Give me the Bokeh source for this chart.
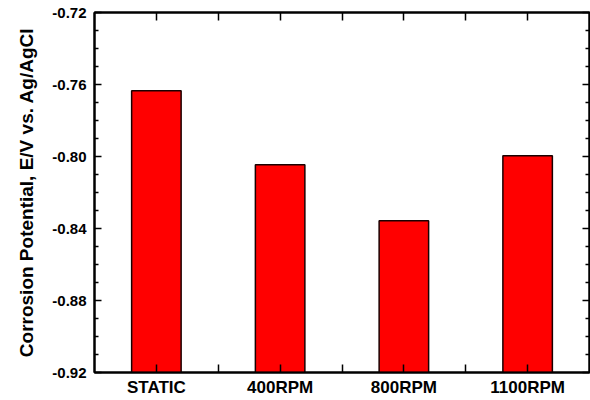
from bokeh.plotting import figure
from bokeh.models import LinearAxis, FixedTicker, Range1d, ColumnDataSource, CustomLabelingPolicy
from bokeh.embed import file_html
from bokeh.resources import INLINE

categories = ["STATIC", "400RPM", "800RPM", "1100RPM"]
potentials = [-0.7635, -0.8046, -0.8357, -0.7996]
y_ticks = [-0.92, -0.88, -0.84, -0.80, -0.76, -0.72]
y_tick_labels = ["-0.92", "-0.88", "-0.84", "-0.80", "-0.76", "-0.72"]
y_minor = [-0.91, -0.90, -0.89, -0.87, -0.86, -0.85, -0.83, -0.82, -0.81,
           -0.79, -0.78, -0.77, -0.75, -0.74, -0.73]
y_label = "Corrosion Potential, E/V vs. Ag/AgCl"
y_bottom = -0.92
y_top = -0.72

xpos = list(range(len(categories)))
x_minor = [0.5, 1.5, 2.5]

src = ColumnDataSource(dict(x=xpos, top=potentials, bottom=[y_bottom] * len(xpos)))

FONT = "Liberation Sans"

p = figure(width=590, height=400, x_range=Range1d(-0.5, len(categories) - 0.5),
           y_range=Range1d(y_bottom, y_top), output_backend="svg",
           toolbar_location=None, min_border_left=94, min_border_right=1,
           min_border_top=12, min_border_bottom=28)
p.xgrid.visible = False
p.ygrid.visible = False
p.outline_line_color = "black"
p.outline_line_width = 2
p.background_fill_color = "white"
p.border_fill_color = "white"

p.vbar(x="x", top="top", bottom="bottom", width=0.4, source=src,
       fill_color="#ff0000", line_color="#1a0000", line_width=1.5)

xt = FixedTicker(ticks=xpos, minor_ticks=x_minor)
yt = FixedTicker(ticks=y_ticks, minor_ticks=y_minor)

NO_LABELS = """
const all = Array.from(indices);
for (const i of all) indices.unset(i);
return indices;
"""

def style_x(ax, labels=True):
    ax.ticker = xt
    ax.axis_line_width = 2
    ax.major_tick_in = 8
    ax.major_tick_out = 0
    ax.minor_tick_in = 8
    ax.minor_tick_out = 0
    ax.major_tick_line_width = 1.5
    ax.minor_tick_line_width = 1.5
    if labels:
        ax.major_label_overrides = {i: c for i, c in zip(xpos, categories)}
        ax.major_label_text_font = FONT
        ax.major_label_text_font_style = "bold"
        ax.major_label_text_font_size = "17px"
        ax.major_label_text_color = "black"
        ax.major_label_standoff = 5
    else:
        ax.major_label_text_font_size = "0px"
        ax.major_label_standoff = 0
        ax.major_label_policy = CustomLabelingPolicy(code=NO_LABELS)

def style_y(ax, labels=True):
    ax.ticker = yt
    ax.axis_line_width = 2
    ax.major_tick_in = 7
    ax.major_tick_out = 0
    ax.minor_tick_in = 4
    ax.minor_tick_out = 0
    ax.major_tick_line_width = 1.5
    ax.minor_tick_line_width = 1.5
    if labels:
        ax.major_label_overrides = {t: l for t, l in zip(y_ticks, y_tick_labels)}
        ax.major_label_text_font = FONT
        ax.major_label_text_font_style = "bold"
        ax.major_label_text_font_size = "15px"
        ax.major_label_text_color = "black"
        ax.major_label_standoff = 8
    else:
        ax.major_label_text_font_size = "0px"
        ax.major_label_standoff = 0
        ax.major_label_policy = CustomLabelingPolicy(code=NO_LABELS)

style_x(p.xaxis[0])
style_y(p.yaxis[0])
p.yaxis[0].axis_label = y_label
p.yaxis[0].axis_label_text_font = FONT
p.yaxis[0].axis_label_text_font_style = "bold"
p.yaxis[0].axis_label_text_font_size = "19px"
p.yaxis[0].axis_label_text_color = "black"
p.yaxis[0].axis_label_standoff = 12

top_ax = LinearAxis()
style_x(top_ax, labels=False)
p.add_layout(top_ax, "above")
right_ax = LinearAxis()
style_y(right_ax, labels=False)
p.add_layout(right_ax, "right")

open("out.html", "w").write(file_html(p, INLINE))
